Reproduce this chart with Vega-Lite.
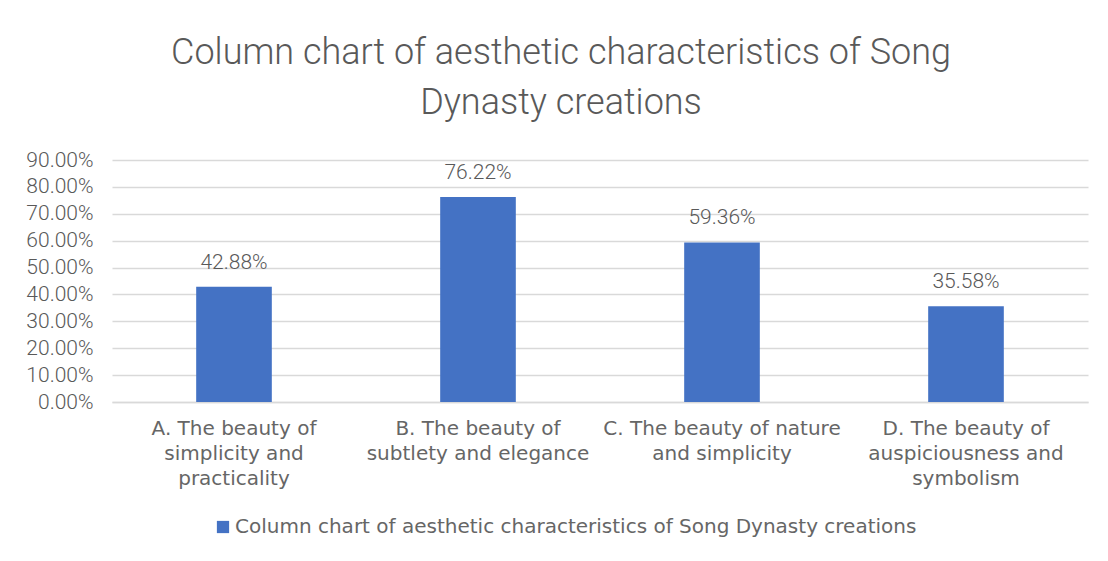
{
  "$schema": "https://vega.github.io/schema/vega-lite/v6.json",
  "width": 976,
  "height": 242,
  "autosize": {"type": "none"},
  "padding": {"left": 112, "top": 160, "right": 20, "bottom": 159},
  "background": "white",
  "title": {
    "text": ["Column chart of aesthetic characteristics of Song", "Dynasty creations"],
    "font": "Roboto",
    "fontSize": 36,
    "fontWeight": 300,
    "color": "#595959",
    "lineHeight": 50,
    "anchor": "middle",
    "dx": -39,
    "offset": 27
  },
  "data": {
    "values": [
      {"category": "A", "label": "A. The beauty of simplicity and practicality", "value": 0.4288, "series": "Column chart of aesthetic characteristics of Song Dynasty creations"},
      {"category": "B", "label": "B. The beauty of subtlety and elegance", "value": 0.7622, "series": "Column chart of aesthetic characteristics of Song Dynasty creations"},
      {"category": "C", "label": "C. The beauty of nature and simplicity", "value": 0.5936, "series": "Column chart of aesthetic characteristics of Song Dynasty creations"},
      {"category": "D", "label": "D. The beauty of auspiciousness and symbolism", "value": 0.3558, "series": "Column chart of aesthetic characteristics of Song Dynasty creations"}
    ]
  },
  "encoding": {
    "x": {
      "field": "category",
      "type": "nominal",
      "sort": null,
      "scale": {"paddingInner": 0.69, "paddingOuter": 0.345},
      "axis": {
        "title": null,
        "labelAngle": 0,
        "labelExpr": "datum.value == 'A' ? ['A. The beauty of', 'simplicity and', 'practicality'] : datum.value == 'B' ? ['B. The beauty of', 'subtlety and elegance'] : datum.value == 'C' ? ['C. The beauty of nature', 'and simplicity'] : ['D. The beauty of', 'auspiciousness and', 'symbolism']",
        "labelFont": "DejaVu Sans",
        "labelFontSize": 20,
        "labelFontWeight": "normal",
        "labelColor": "#666666",
        "labelLineHeight": 25,
        "labelPadding": 16,
        "labelBaseline": "top",
        "labelLimit": 0,
        "ticks": false,
        "domain": true,
        "domainColor": "#d9d9d9",
        "domainWidth": 1.5,
        "grid": false
      }
    },
    "y": {
      "field": "value",
      "type": "quantitative",
      "scale": {"domain": [0, 0.9], "nice": false},
      "axis": {
        "title": null,
        "format": ".2%",
        "values": [0, 0.1, 0.2, 0.3, 0.4, 0.5, 0.6, 0.7, 0.8, 0.9],
        "labelFont": "Roboto",
        "labelFontSize": 21,
        "labelFontWeight": 300,
        "labelColor": "#595959",
        "labelPadding": 19,
        "ticks": false,
        "domain": false,
        "grid": true,
        "gridColor": "#d9d9d9",
        "gridWidth": 1.5
      }
    }
  },
  "layer": [
    {
      "mark": {"type": "bar"},
      "encoding": {
        "color": {
          "field": "series",
          "type": "nominal",
          "scale": {"range": ["#4472C4"]},
          "legend": {
            "title": null,
            "orient": "none",
            "legendX": 101,
            "legendY": 357,
            "symbolType": "square",
            "symbolSize": 150,
            "symbolStrokeWidth": 0,
            "labelFont": "DejaVu Sans",
            "labelFontSize": 20,
            "labelFontWeight": "normal",
            "labelColor": "#666666",
            "labelOffset": 2,
            "labelLimit": 0
          }
        }
      }
    },
    {
      "mark": {"type": "text", "baseline": "bottom", "dy": -14, "font": "Roboto", "fontSize": 21, "fontWeight": 300, "color": "#595959"},
      "encoding": {
        "text": {"field": "value", "type": "quantitative", "format": ".2%"}
      }
    }
  ],
  "config": {
    "view": {"stroke": null}
  }
}
